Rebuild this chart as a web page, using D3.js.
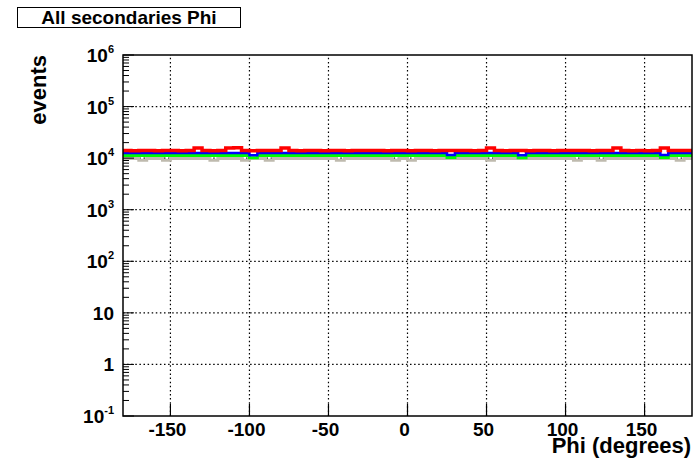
<!DOCTYPE html>
<html>
<head>
<meta charset="utf-8">
<script src="https://cdn.jsdelivr.net/npm/d3@7"></script>
<style>
  body { margin: 0; background: #fff; }
  text { font-family: "Liberation Sans", Arial, sans-serif; font-weight: bold; }
</style>
</head>
<body>
<div id="chart"></div>
<script>
// 72 bins of 5 degrees, -180 .. 180
let binLow = d3.range(-180, 180, 5)

let redVals = [
  14100,13950,14050,14000,13900,14080,14020,13980,14060,15800,
  14010,13940,14030,15750,15850,14000,13960,14070,14020,13990,
  15800,14030,13970,14040,14010,13950,14060,14000,13980,14050,
  14020,13990,14040,13960,14030,14010,13970,14060,14000,13980,
  14050,14020,13990,14030,13960,14040,15800,14010,13970,14050,
  14000,13980,14060,14020,13950,14030,14010,13990,14040,13970,
  14020,14000,15750,14050,13980,14030,13960,14010,15800,14040,
  13990,14020]

let blueVals = [
  12620,12580,12640,12600,12570,12610,12630,12590,12650,12600,
  12580,12620,12610,12570,12640,12600,11400,12630,12590,12610,
  12580,12640,12600,12620,12570,12610,12590,12630,12600,12580,
  12640,12610,12590,12620,12600,12570,12630,12610,12580,12640,
  12600,11450,12620,12590,12610,12570,12630,12600,12640,12580,
  11400,12610,12590,12620,12600,12640,12570,12610,12630,12590,
  12600,12620,12580,12640,12610,12590,12600,12630,11450,12570,
  12620,12600]

let greenVals = [
  11260,11230,11280,11250,11220,11270,11240,11290,11250,11230,
  11270,11240,11260,11220,11280,11250,10200,11270,11230,11260,
  11240,11280,11250,11220,11270,11240,11260,11230,11280,11250,
  11220,11260,11240,11270,11250,11230,11280,11240,11260,11220,
  11270,10250,11240,11260,11230,11280,11250,11220,11270,11240,
  10200,11260,11230,11280,11250,11240,11270,11220,11260,11250,
  11230,11280,11240,11260,11220,11270,11250,11240,10250,11260,
  11230,11270]

let grayVals = [
  9860,9840,9100,9870,9830,9120,9850,9880,9840,9860,
  9830,9100,9870,9850,9840,9120,9860,9830,9100,9870,
  9850,9840,9880,9830,9860,9850,9840,9110,9870,9830,
  9860,9850,9840,9880,9100,9860,9120,9850,9830,9870,
  9840,9860,9850,9830,9880,9840,9110,9860,9850,9830,
  9870,9840,9860,9850,9830,9880,9840,9100,9860,9850,
  9120,9830,9870,9840,9860,9850,9830,9880,9840,9860,
  9100,9850]

let xTicks = [-150, -100, -50, 0, 50, 100, 150]
let yExps = [-1, 0, 1, 2, 3, 4, 5, 6]

let width = 700, height = 460
let margin = {left: 123, right: 8, top: 55, bottom: 44}

let svg = d3.select("#chart")
    .append("svg")
    .attr("width", width)
    .attr("height", height)

let x = d3.scaleLinear()
    .domain([-180, 180])
    .range([margin.left, width - margin.right])

let y = d3.scaleLog()
    .domain([0.1, 1e6])
    .range([height - margin.bottom, margin.top])

let x0 = x.range()[0], x1 = x.range()[1]
let yb = y.range()[0], yt = y.range()[1]

// grid, dotted
svg.append("g").selectAll("line")
    .data(xTicks)
    .enter()
    .append("line")
    .attr("x1", d => x(d)).attr("x2", d => x(d))
    .attr("y1", yb).attr("y2", yt)
    .attr("stroke", "#000")
    .attr("stroke-width", 1.2)
    .attr("stroke-dasharray", "1.5,2.6")

svg.append("g").selectAll("line")
    .data(yExps.slice(1, -1))
    .enter()
    .append("line")
    .attr("x1", x0).attr("x2", x1)
    .attr("y1", d => y(Math.pow(10, d))).attr("y2", d => y(Math.pow(10, d)))
    .attr("stroke", "#000")
    .attr("stroke-width", 1.2)
    .attr("stroke-dasharray", "1.5,2.6")

// histograms
let histLine = d3.line()
    .x(d => x(d[0]))
    .y(d => y(d[1]))
    .curve(d3.curveStepAfter)

function histPoints(vals) {
    let pts = binLow.map((b, i) => [b, vals[i]])
    pts.push([180, vals[vals.length - 1]])
    return pts
}

let series = [
    {vals: grayVals, color: "#bfbaae", w: 3},
    {vals: greenVals, color: "#00ff00", w: 3},
    {vals: blueVals, color: "#0000ff", w: 2.5},
    {vals: redVals, color: "#ff0000", w: 3.5}
]

svg.append("g").selectAll("path")
    .data(series)
    .enter()
    .append("path")
    .attr("d", d => histLine(histPoints(d.vals)))
    .attr("fill", "none")
    .attr("stroke", d => d.color)
    .attr("stroke-width", d => d.w)

// frame
svg.append("rect")
    .attr("x", x0).attr("y", yt)
    .attr("width", x1 - x0).attr("height", yb - yt)
    .attr("fill", "none")
    .attr("stroke", "#000")
    .attr("stroke-width", 1.5)

// x ticks
svg.append("g").selectAll("line")
    .data(xTicks)
    .enter()
    .append("line")
    .attr("x1", d => x(d)).attr("x2", d => x(d))
    .attr("y1", yb).attr("y2", yb - 12)
    .attr("stroke", "#000")
    .attr("stroke-width", 1.2)

svg.append("g").selectAll("text")
    .data(xTicks)
    .enter()
    .append("text")
    .attr("x", d => x(d) - 3)
    .attr("y", yb + 20)
    .attr("text-anchor", "middle")
    .style("font-size", "19px")
    .text(d => d)

// y ticks, major and minor
let minor = []
yExps.slice(0, -1).forEach(e => {
    for (let m = 2; m <= 9; m++) minor.push(m * Math.pow(10, e))
})

svg.append("g").selectAll("line")
    .data(minor)
    .enter()
    .append("line")
    .attr("x1", x0).attr("x2", x0 + 6)
    .attr("y1", d => y(d)).attr("y2", d => y(d))
    .attr("stroke", "#000")

svg.append("g").selectAll("line")
    .data(yExps)
    .enter()
    .append("line")
    .attr("x1", x0).attr("x2", x0 + 11)
    .attr("y1", d => y(Math.pow(10, d))).attr("y2", d => y(Math.pow(10, d)))
    .attr("stroke", "#000")

let yLab = svg.append("g").selectAll("text")
    .data(yExps)
    .enter()
    .append("text")
    .attr("x", 114)
    .attr("y", d => y(Math.pow(10, d)) + 7)
    .attr("text-anchor", "end")
    .style("font-size", "19px")

yLab.each(function(d) {
    let t = d3.select(this)
    if (d == 0) { t.text("1"); return }
    if (d == 1) { t.text("10"); return }
    t.append("tspan").text("10")
    t.append("tspan")
        .attr("dy", -9)
        .style("font-size", "11px")
        .text(d)
})

// axis titles
svg.append("text")
    .attr("x", x1 - 1)
    .attr("y", 453)
    .attr("text-anchor", "end")
    .style("font-size", "22px")
    .text("Phi (degrees)")

svg.append("text")
    .attr("transform", `translate(46, ${yt}) rotate(-90)`)
    .attr("text-anchor", "end")
    .style("font-size", "22px")
    .text("events")

// title box
svg.append("rect")
    .attr("x", 17.5).attr("y", 7.5)
    .attr("width", 223).attr("height", 20)
    .attr("fill", "#fff")
    .attr("stroke", "#000")

svg.append("text")
    .attr("x", 129)
    .attr("y", 24)
    .attr("text-anchor", "middle")
    .style("font-size", "19px")
    .text("All secondaries Phi")
</script>
</body>
</html>
